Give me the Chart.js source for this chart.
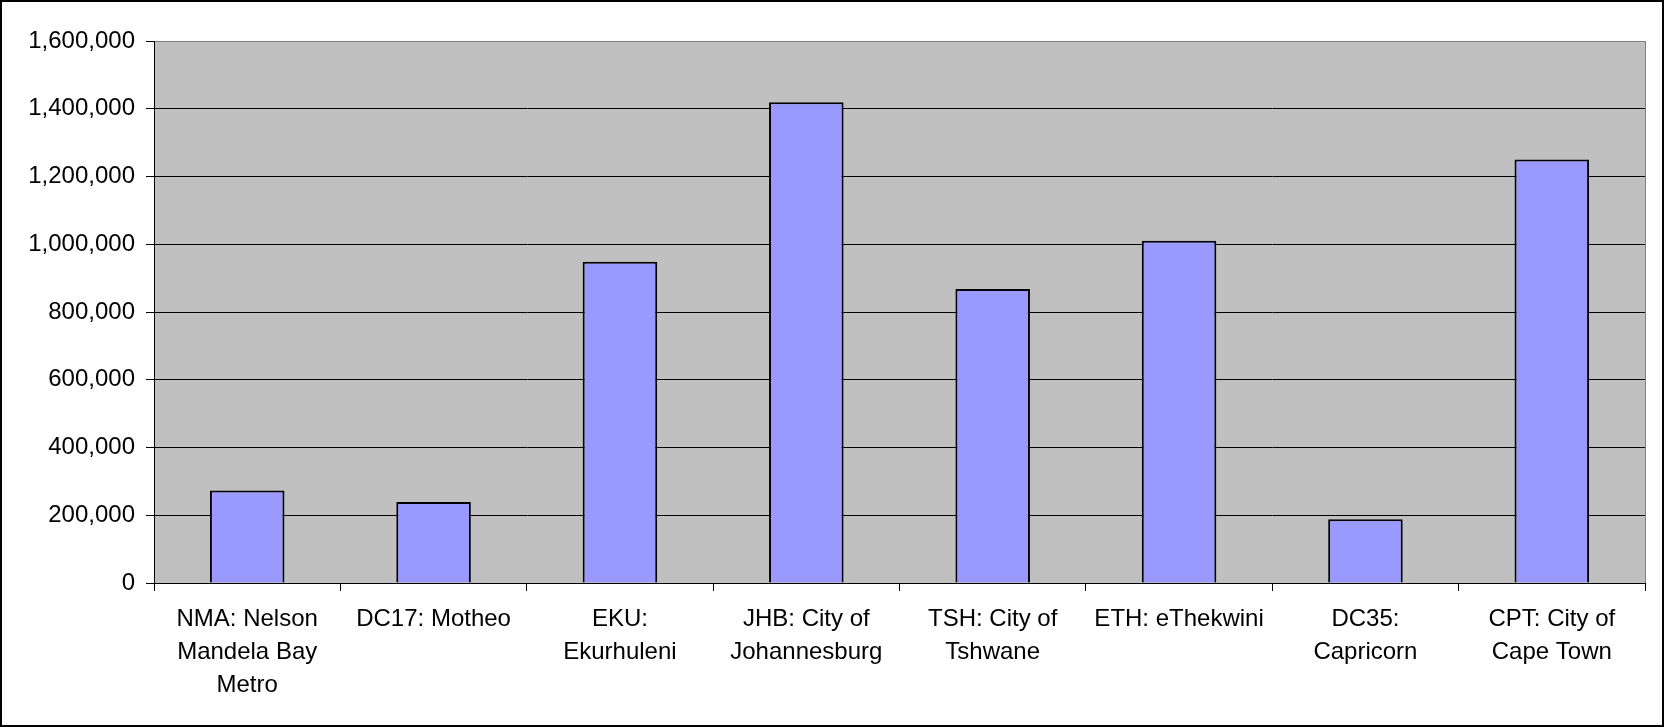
<!DOCTYPE html>
<html>
<head>
<meta charset="utf-8">
<script src="https://cdn.jsdelivr.net/npm/chart.js@4/dist/chart.umd.min.js"></script>
<style>
  html, body { margin: 0; padding: 0; background: #fff; }
  #wrap { width: 1664px; height: 727px; }
</style>
</head>
<body>
<div id="wrap"><canvas id="chart" width="1664" height="727"></canvas></div>
<script>
// municipios y valores
const categories = [
    ['NMA: Nelson', 'Mandela Bay', 'Metro'],
    ['DC17: Motheo'],
    ['EKU:', 'Ekurhuleni'],
    ['JHB: City of', 'Johannesburg'],
    ['TSH: City of', 'Tshwane'],
    ['ETH: eThekwini'],
    ['DC35:', 'Capricorn'],
    ['CPT: City of', 'Cape Town']
];
const values = [273000, 239000, 948000, 1419000, 868000, 1010000, 188000, 1250000];
const yTicks = [0, 200000, 400000, 600000, 800000, 1000000, 1200000, 1400000, 1600000];

const fontFamily = "'Liberation Sans', Arial, sans-serif";

// fondo gris del area de trazado y marco exterior
const plotBackground = {
    id: 'plotBackground',
    beforeDraw(chart) {
        const { ctx, chartArea: a } = chart;
        ctx.save();
        ctx.fillStyle = '#C0C0C0';
        ctx.fillRect(a.left, a.top, a.right - a.left, a.bottom - a.top);
        ctx.strokeStyle = '#808080';
        ctx.lineWidth = 1;
        ctx.strokeRect(Math.round(a.left) + 0.5, Math.round(a.top) + 0.5,
            Math.round(a.right - a.left), Math.round(a.bottom - a.top));
        ctx.restore();
    },
    afterDraw(chart) {
        const { ctx, width, height } = chart;
        ctx.save();
        ctx.strokeStyle = '#000';
        ctx.lineWidth = 2;
        ctx.strokeRect(1, 1, width - 2, height - 2);
        ctx.restore();
    }
};

new Chart(document.getElementById('chart'), {
    type: 'bar',
    data: {
        labels: categories,
        datasets: [{
            data: values,
            backgroundColor: '#9999FF',
            borderColor: '#000000',
            borderWidth: 2,
            barPercentage: 0.4,
            categoryPercentage: 1.0
        }]
    },
    options: {
        responsive: false,
        animation: false,
        layout: { padding: { top: 41, right: 19, left: 0, bottom: 0 } },
        plugins: {
            legend: { display: false },
            tooltip: { enabled: false }
        },
        scales: {
            x: {
                afterFit(scale) { scale.height = 144; },
                grid: {
                    drawOnChartArea: false,
                    drawTicks: true,
                    tickLength: 8,
                    tickColor: '#000',
                    offset: true
                },
                border: { color: '#000', width: 1 },
                ticks: {
                    color: '#000',
                    maxRotation: 0,
                    autoSkip: false,
                    padding: 12,
                    font: { family: fontFamily, size: 24, lineHeight: 1.375 }
                }
            },
            y: {
                min: 0,
                max: 1600000,
                afterFit(scale) { scale.width = 154; },
                afterBuildTicks(scale) {
                    scale.ticks = yTicks.map(v => ({ value: v }));
                },
                grid: {
                    color: ctx => (ctx.tick && ctx.tick.value === 1600000) ? '#808080' : '#000',
                    lineWidth: 1,
                    drawTicks: true,
                    tickLength: 8,
                    tickColor: '#000'
                },
                border: { color: '#000', width: 1 },
                ticks: {
                    color: '#000',
                    padding: 11,
                    font: { family: fontFamily, size: 24 },
                    callback: v => v.toLocaleString('en-US')
                }
            }
        }
    },
    plugins: [plotBackground]
});
</script>
</body>
</html>
